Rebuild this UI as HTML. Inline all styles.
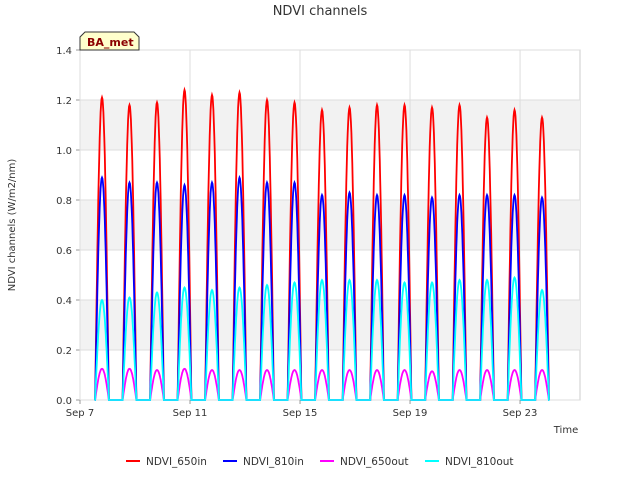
<!DOCTYPE html>
<html><head><meta charset="utf-8"><style>
body{margin:0;background:#fff;font-family:"DejaVu Sans","Liberation Sans",sans-serif;}
svg text{font-family:"DejaVu Sans","Liberation Sans",sans-serif;}
</style></head><body>
<svg id="c" width="640" height="480" xmlns="http://www.w3.org/2000/svg">
<text x="320" y="15" text-anchor="middle" font-size="13" fill="#333">NDVI channels</text>
<text transform="translate(15,225) rotate(-90)" text-anchor="middle" font-size="10" fill="#333">NDVI channels (W/m2/nm)</text>
<text x="566" y="433" text-anchor="middle" font-size="10" fill="#333">Time</text>
<g id="plot"></g>
<g>
<path d="M80,50 L80,37 L85,32 L134,32 L139,37 L139,50 Z" fill="#ffffcc" stroke="#333" stroke-width="1"/>
<text x="87" y="46" font-size="11" font-weight="bold" fill="#8b0000">BA_met</text>
</g>
<g id="legend"></g>
</svg>
<script>
const yTicks=[0,0.2,0.4,0.6,0.8,1.0,1.2,1.4];
const xTickDays=[7,11,15,19,23];
const xTickLabels=["Sep 7","Sep 11","Sep 15","Sep 19","Sep 23"];
const peakDays=[7.8,8.8,9.8,10.8,11.8,12.8,13.8,14.8,15.8,16.8,17.8,18.8,19.8,20.8,21.8,22.8,23.8];
const red650in=[1.21,1.18,1.19,1.24,1.22,1.23,1.20,1.19,1.16,1.17,1.18,1.18,1.17,1.18,1.13,1.16,1.13];
const blue810in=[0.89,0.87,0.87,0.86,0.87,0.89,0.87,0.87,0.82,0.83,0.82,0.82,0.81,0.82,0.82,0.82,0.81];
const mag650out=[0.125,0.125,0.12,0.125,0.12,0.12,0.12,0.12,0.12,0.12,0.12,0.12,0.115,0.12,0.12,0.12,0.12];
const cyan810out=[0.40,0.41,0.43,0.45,0.44,0.45,0.46,0.47,0.48,0.48,0.48,0.47,0.47,0.48,0.48,0.49,0.44];
const seriesNames=["NDVI_650in","NDVI_810in","NDVI_650out","NDVI_810out"];
const seriesColors=["#ff0000","#0000ff","#ff00ff","#00ffff"];
const X0=80,X1=580,Y0=50,Y1=400,D0=7,D1=25.18;
const xs=d=>X0+(d-D0)/(D1-D0)*(X1-X0);
const ys=v=>Y1-v/1.4*(Y1-Y0);
const NS="http://www.w3.org/2000/svg";
const plot=document.getElementById('plot');
function mk(t,a,p){const e=document.createElementNS(NS,t);for(const k in a)e.setAttribute(k,a[k]);(p||plot).appendChild(e);return e;}
const bg=mk('rect',{x:X0,y:Y0,width:X1-X0,height:Y1-Y0,fill:'#fff',stroke:'#ccc'});


for(let i=0;i<yTicks.length-1;i++){
 if(i%2==1){const b=mk('rect',{x:X0,y:ys(yTicks[i+1]),width:X1-X0,height:ys(yTicks[i])-ys(yTicks[i+1]),fill:'#f2f2f2'});
 
 }
}
yTicks.forEach(v=>{
 const g=mk('line',{x1:X0,x2:X1,y1:ys(v),y2:ys(v),stroke:'#ddd'});
 
 
 const t=mk('text',{x:X0-8,y:ys(v)+4,'text-anchor':'end','font-size':10,fill:'#333'});t.textContent=v.toFixed(1);
 
 
 mk('line',{x1:X0-4,x2:X0,y1:ys(v),y2:ys(v),stroke:'#999'});
});
xTickDays.forEach((d,i)=>{
 const g=mk('line',{x1:xs(d),x2:xs(d),y1:Y0,y2:Y1,stroke:'#ddd'});
 
 
 mk('line',{x1:xs(d),x2:xs(d),y1:Y1,y2:Y1+4,stroke:'#999'});
 const t=mk('text',{x:xs(d),y:Y1+16,'text-anchor':'middle','font-size':10,fill:'#333'});t.textContent=xTickLabels[i];
 
 
});
const allSeries=[red650in,blue810in,mag650out,cyan810out];
const hw=0.25;
allSeries.forEach((arr,si)=>{
 let pts=[];
 peakDays.forEach((pd,i)=>{
  pts.push([pd-hw-0.02,0]);
  for(let k=0;k<=30;k++){const t=pd-hw+2*hw*k/30;pts.push([t,arr[i]*Math.sin(Math.PI*k/30)]);}
  pts.push([pd+hw+0.02,0]);
 });
 const p=mk('polyline',{points:pts.map(q=>xs(q[0]).toFixed(1)+','+ys(q[1]).toFixed(1)).join(' '),fill:'none',stroke:seriesColors[si],'stroke-width':1.8});
 
 
});
const leg=document.getElementById('legend');
const lx=[126,223,320,425];
seriesNames.forEach((n,i)=>{
 const g=mk('g',{},leg);
 
 
 mk('line',{x1:lx[i],x2:lx[i]+14,y1:461,y2:461,stroke:seriesColors[i],'stroke-width':2},g);
 const t=mk('text',{x:lx[i]+20,y:465,'font-size':10.5,fill:'#333'},g);t.textContent=n;
});
</script>
</body></html>
